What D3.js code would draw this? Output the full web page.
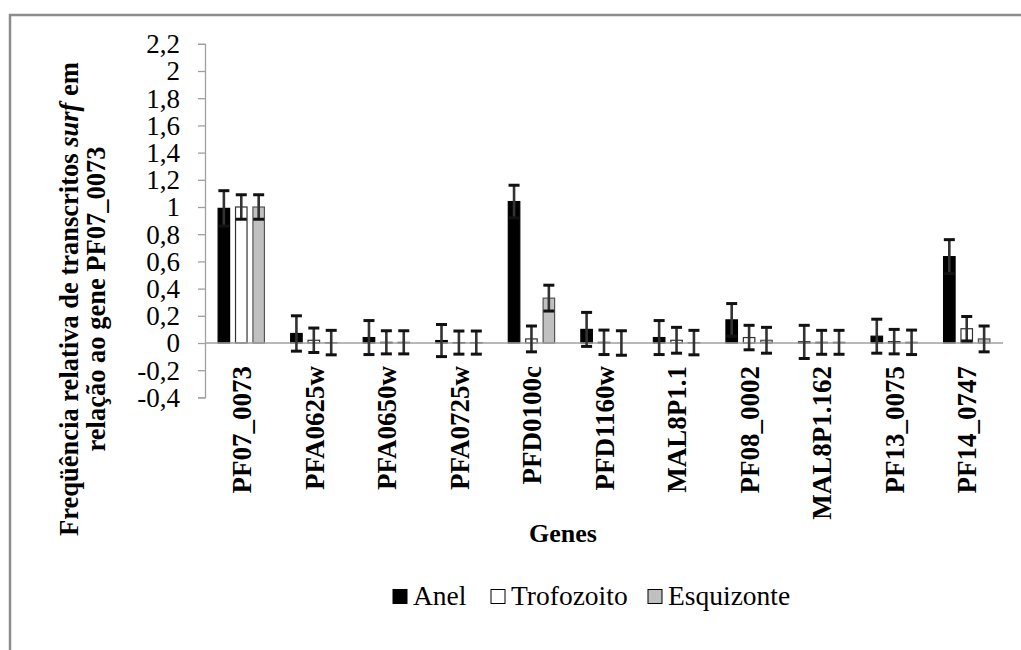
<!DOCTYPE html>
<html>
<head>
<meta charset="utf-8">
<script src="https://cdn.jsdelivr.net/npm/d3@7"></script>
<style>
  html, body { margin: 0; padding: 0; background: #fff; }
  svg { display: block; }
  svg text { font-family: "Liberation Serif", "Times New Roman", Times, serif; }
</style>
</head>
<body>
<svg id="chart" width="1021" height="650"></svg>
<script>
// Genes on the x axis
const genes = ["PF07_0073", "PFA0625w", "PFA0650w", "PFA0725w", "PFD0100c", "PFD1160w",
               "MAL8P1.1", "PF08_0002", "MAL8P1.162", "PF13_0075", "PF14_0747"];

// Relative transcript frequency per stage, with error (±)
const anel       = [0.99, 0.07, 0.04, 0.018, 1.04, 0.10, 0.04, 0.17, 0.008, 0.05, 0.635];
const anelErr    = [0.13, 0.13, 0.125, 0.118, 0.12, 0.125, 0.125, 0.12, 0.122, 0.125, 0.125];
const trofozoito = [1.0, 0.02, 0.005, 0.003, 0.03, 0.005, 0.02, 0.04, 0.005, 0.01, 0.105];
const trofErr    = [0.09, 0.09, 0.085, 0.085, 0.095, 0.09, 0.095, 0.09, 0.088, 0.09, 0.09];
const esquizonte = [1.0, 0.003, 0.005, 0.003, 0.33, 0.0, 0.003, 0.02, 0.005, 0.005, 0.03];
const esqErr     = [0.09, 0.09, 0.085, 0.085, 0.095, 0.09, 0.09, 0.095, 0.088, 0.09, 0.095];

const stages = ["Anel", "Trofozoito", "Esquizonte"];
const stageFill = ["#000000", "#ffffff", "#c0c0c0"];
const stageStroke = ["#000000", "#333333", "#555555"];

const yTicks = [-0.4, -0.2, 0, 0.2, 0.4, 0.6, 0.8, 1, 1.2, 1.4, 1.6, 1.8, 2, 2.2];

const series = [
  { values: anel, errors: anelErr },
  { values: trofozoito, errors: trofErr },
  { values: esquizonte, errors: esqErr }
];

const svg = d3.select("#chart");

// outer chart frame
svg.append("rect")
  .attr("x", 10).attr("y", 15)
  .attr("width", 1200).attr("height", 800)
  .attr("fill", "none")
  .attr("stroke", "#8c8c8c")
  .attr("stroke-width", 2.5);

const plotLeft = 205, plotRight = 1003;

const x = d3.scaleBand()
  .domain(genes)
  .range([plotLeft, plotRight])
  .paddingInner(0)
  .paddingOuter(0);

const y = d3.scaleLinear()
  .domain([-0.4, 2.2])
  .range([397.4, 43.8]);

const barStep = 17.4;
const barW = 11.5;

const fmt = d => String(Math.round(d * 10) / 10).replace(".", ",");

// y axis
const yAxis = svg.append("g")
  .attr("transform", `translate(${plotLeft},0)`)
  .call(d3.axisLeft(y).tickValues(yTicks).tickFormat(fmt).tickSize(7).tickPadding(18));
yAxis.attr("font-family", null).attr("font-size", null);
yAxis.select(".domain").attr("stroke", "#a0a0a0").attr("stroke-width", 1.3);
yAxis.selectAll(".tick line").attr("stroke", "#a0a0a0").attr("stroke-width", 1.3);
yAxis.selectAll(".tick text")
  .style("font-size", "27px")
  .attr("fill", "#000")
  .attr("dy", "0.33em");

// bars
const groups = svg.append("g");
series.forEach((s, si) => {
  groups.selectAll(null)
    .data(genes)
    .enter().append("rect")
    .attr("x", g => x(g) + x.bandwidth() / 2 + (si - 1) * barStep - barW / 2)
    .attr("y", (g, i) => y(Math.max(0, s.values[i])))
    .attr("width", barW)
    .attr("height", (g, i) => Math.abs(y(s.values[i]) - y(0)))
    .attr("fill", stageFill[si])
    .attr("stroke", stageStroke[si])
    .attr("stroke-width", 1.2);
});

// x axis baseline at zero
svg.append("line")
  .attr("x1", plotLeft).attr("x2", plotRight)
  .attr("y1", y(0)).attr("y2", y(0))
  .attr("stroke", "#a0a0a0")
  .attr("stroke-width", 1.5);

// error bars
const errG = svg.append("g").attr("stroke", "#111").attr("fill", "none");
series.forEach((s, si) => {
  genes.forEach((g, i) => {
    const cx = x(g) + x.bandwidth() / 2 + (si - 1) * barStep;
    const v = s.values[i], e = s.errors[i];
    errG.append("line")
      .attr("x1", cx).attr("x2", cx)
      .attr("y1", y(v + e)).attr("y2", y(v - e))
      .attr("stroke", "#333").attr("stroke-width", 2.6);
    [v + e, v - e].forEach(t => {
      errG.append("line")
        .attr("x1", cx - 5.5).attr("x2", cx + 5.5)
        .attr("y1", y(t)).attr("y2", y(t))
        .attr("stroke-width", 3);
    });
  });
});

// category labels, rotated
svg.append("g").selectAll("text")
  .data(genes)
  .enter().append("text")
  .attr("transform", g => `translate(${x(g) + x.bandwidth() / 2},366) rotate(-90)`)
  .attr("text-anchor", "end")
  .attr("dy", "0.36em")
  .style("font-weight", "bold")
  .style("font-size", "27px")
  .text(g => g);

// axis titles
svg.append("text")
  .attr("x", 563).attr("y", 542)
  .attr("text-anchor", "middle")
  .style("font-weight", "bold")
  .style("font-size", "26px")
  .text("Genes");

const yTitle = svg.append("text")
  .attr("transform", "translate(78,299) rotate(-90)")
  .attr("text-anchor", "middle")
  .style("font-weight", "bold")
  .style("font-size", "26.5px");
yTitle.append("tspan").attr("x", 0).attr("y", 0).text("Freqüência relativa de transcritos ");
yTitle.append("tspan").style("font-style", "italic").text("surf");
yTitle.append("tspan").text(" em");
yTitle.append("tspan").attr("x", 0).attr("y", 27).text("relação ao gene PF07_0073");

// legend
const legend = svg.append("g");
const legendX = [393, 491, 648];
stages.forEach((st, i) => {
  legend.append("rect")
    .attr("x", legendX[i]).attr("y", 589.5)
    .attr("width", 14).attr("height", 14)
    .attr("fill", stageFill[i])
    .attr("stroke", "#000")
    .attr("stroke-width", 1);
  legend.append("text")
    .attr("x", legendX[i] + 20).attr("y", 605)
    .style("font-size", "27.5px")
    .text(st);
});
</script>
</body>
</html>
